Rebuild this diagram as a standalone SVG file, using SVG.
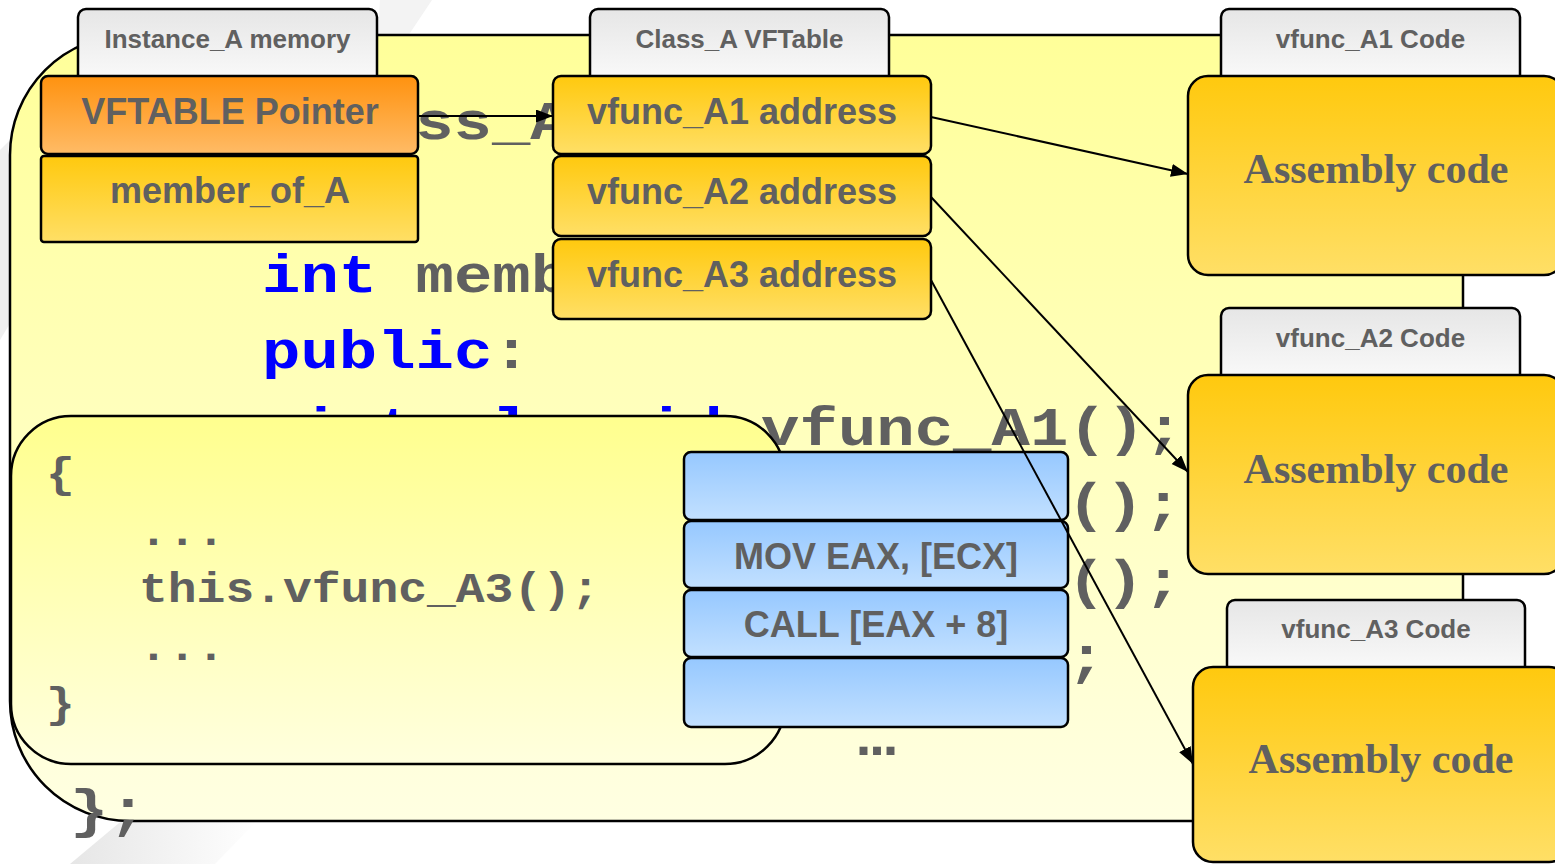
<svg xmlns="http://www.w3.org/2000/svg" width="1555" height="864" viewBox="0 0 1555 864">
  <defs>
    <linearGradient id="gYellowBg" x1="0" y1="0" x2="0" y2="1">
      <stop offset="0" stop-color="#FFFF99"/>
      <stop offset="1" stop-color="#FFFFE2"/>
    </linearGradient>
    <linearGradient id="gInner" x1="0" y1="0" x2="0" y2="1">
      <stop offset="0" stop-color="#FFFF8E"/>
      <stop offset="1" stop-color="#FFFFDE"/>
    </linearGradient>
    <linearGradient id="gTab" x1="0" y1="0" x2="0" y2="1">
      <stop offset="0" stop-color="#E6E6E6"/>
      <stop offset="1" stop-color="#FCFCFC"/>
    </linearGradient>
    <linearGradient id="gGold" x1="0" y1="0" x2="0" y2="1">
      <stop offset="0" stop-color="#FFC90E"/>
      <stop offset="1" stop-color="#FFDF66"/>
    </linearGradient>
    <linearGradient id="gOrange" x1="0" y1="0" x2="0" y2="1">
      <stop offset="0" stop-color="#FF920F"/>
      <stop offset="1" stop-color="#FFBB66"/>
    </linearGradient>
    <linearGradient id="gBlue" x1="0" y1="0" x2="0" y2="1">
      <stop offset="0" stop-color="#96C8FF"/>
      <stop offset="1" stop-color="#C2E0FF"/>
    </linearGradient>
    <linearGradient id="gSwoosh" x1="0" y1="0" x2="1" y2="0">
      <stop offset="0" stop-color="#E6E6E6"/>
      <stop offset="1" stop-color="#FFFFFF"/>
    </linearGradient>
    <marker id="arrow" markerUnits="userSpaceOnUse" markerWidth="18" markerHeight="14" refX="17" refY="6.5" orient="auto">
      <path d="M0,0 L17,6.5 L0,13 z" fill="#000"/>
    </marker>
    <style>
      .tab { fill: url(#gTab); stroke: #000; stroke-width: 2.5; }
      .gold { fill: url(#gGold); stroke: #000; stroke-width: 2.5; }
      .orange { fill: url(#gOrange); stroke: #000; stroke-width: 2.5; }
      .blue { fill: url(#gBlue); stroke: #000; stroke-width: 2.5; }
      .tabtxt { font-family: "Liberation Sans", Arial, sans-serif; font-weight: bold; font-size: 26px; fill: #606060; text-anchor: middle; }
      .lbl { font-family: "Liberation Sans", Arial, sans-serif; font-weight: bold; font-size: 36px; fill: #606060; text-anchor: middle; }
      .dots { font-family: "Liberation Sans", Arial, sans-serif; font-weight: bold; font-size: 56px; fill: #606060; text-anchor: middle; letter-spacing: -2px; }
      .asm { font-family: "Liberation Serif", "Times New Roman", serif; font-weight: bold; font-size: 42px; fill: #606060; text-anchor: middle; }
      .code { font-family: "Liberation Mono", "Courier New", monospace; font-weight: bold; font-size: 64px; fill: #606060; white-space: pre; }
      .code2 { font-family: "Liberation Mono", "Courier New", monospace; font-weight: bold; font-size: 48px; fill: #606060; white-space: pre; }
      .kw { fill: #0000FF; }
      .conn { stroke: #000; stroke-width: 2; fill: none; marker-end: url(#arrow); }
    </style>
  </defs>

  <!-- page background with faint template swooshes -->
  <rect x="0" y="0" width="1555" height="864" fill="#FFFFFF"/>
  <polygon points="380,0 432,0 408,36 378,36" fill="#F3F3F3"/>
  <polygon points="0,150 12,138 12,320 0,340" fill="#EFEFEF"/>
  <polygon points="70,864 125,818 260,818 215,864" fill="url(#gSwoosh)"/>

  <!-- class declaration panel; code lines are squashed vertically to a Courier-like x-height -->
  <g id="class-panel">
    <rect x="10" y="35" width="1453" height="786" rx="120" ry="120" fill="url(#gYellowBg)" stroke="#000" stroke-width="2.5"/>
    <text class="code" x="300" y="139" transform="matrix(1 0 0 0.85 0 20.85)">class_A</text>
    <text class="code" x="262" y="292" transform="matrix(1 0 0 0.85 0 43.8)"><tspan class="kw">int</tspan> memb</text>
    <text class="code" x="262" y="368.5" transform="matrix(1 0 0 0.85 0 55.275)"><tspan class="kw">public</tspan>:</text>
    <text class="code" x="262" y="445" transform="matrix(1 0 0 0.85 0 66.75)"><tspan class="kw">virtual void</tspan> vfunc_A1();</text>
    <text class="code" x="1067" y="521.5" transform="matrix(1 0 0 0.85 0 78.225)">();</text>
    <text class="code" x="1067" y="598" transform="matrix(1 0 0 0.85 0 89.7)">();</text>
    <text class="code" x="1067" y="674.5" transform="matrix(1 0 0 0.85 0 101.175)">;</text>
    <text class="code" x="70" y="827.5" transform="matrix(1 0 0 0.85 0 124.125)">};</text>
  </g>

  <!-- caller body -->
  <g id="caller-body">
    <rect x="11" y="416" width="774" height="348" rx="60" ry="60" fill="url(#gInner)" stroke="#000" stroke-width="2.5"/>
    <text class="code2" x="46" y="487" transform="matrix(1 0 0 0.88 0 58.44)">{</text>
    <text class="code2" x="139" y="545" transform="matrix(1 0 0 0.88 0 65.4)">...</text>
    <text class="code2" x="139" y="602" transform="matrix(1 0 0 0.88 0 72.24)">this.vfunc_A3();</text>
    <text class="code2" x="139" y="660" transform="matrix(1 0 0 0.88 0 79.2)">...</text>
    <text class="code2" x="46" y="717" transform="matrix(1 0 0 0.88 0 86.04)">}</text>
  </g>

  <!-- compiled call sequence -->
  <g id="call-asm">
    <rect class="blue" x="684" y="452" width="384" height="68" rx="7"/>
    <rect class="blue" x="684" y="521" width="384" height="67" rx="7"/>
    <rect class="blue" x="684" y="590" width="384" height="67" rx="7"/>
    <rect class="blue" x="684" y="658" width="384" height="69" rx="7"/>
    <text class="lbl" x="876" y="569">MOV EAX, [ECX]</text>
    <text class="lbl" x="876" y="637">CALL [EAX + 8]</text>
    <text class="dots" x="876" y="755">...</text>
  </g>

  <!-- object instance -->
  <g id="instance-memory">
    <rect class="tab" x="78" y="9" width="299" height="80" rx="8"/>
    <text class="tabtxt" x="227.5" y="48">Instance_A memory</text>
    <rect class="orange" x="41" y="76" width="377" height="78" rx="7"/>
    <text class="lbl" x="230" y="124">VFTABLE Pointer</text>
    <rect class="gold" x="41" y="156" width="377" height="86" rx="3"/>
    <text class="lbl" x="230" y="203">member_of_A</text>
  </g>

  <!-- virtual function table -->
  <g id="vftable">
    <rect class="tab" x="590" y="9" width="299" height="80" rx="8"/>
    <text class="tabtxt" x="739.5" y="48">Class_A VFTable</text>
    <rect class="gold" x="553" y="76" width="378" height="78" rx="8"/>
    <text class="lbl" x="742" y="124">vfunc_A1 address</text>
    <rect class="gold" x="553" y="156" width="378" height="80" rx="8"/>
    <text class="lbl" x="742" y="204">vfunc_A2 address</text>
    <rect class="gold" x="553" y="239" width="378" height="80" rx="8"/>
    <text class="lbl" x="742" y="287">vfunc_A3 address</text>
  </g>

  <!-- function bodies -->
  <g id="vfunc-a1-code">
    <rect class="tab" x="1221" y="9" width="299" height="80" rx="8"/>
    <text class="tabtxt" x="1370.5" y="48">vfunc_A1 Code</text>
    <rect class="gold" x="1188" y="76" width="376" height="199" rx="20"/>
    <text class="asm" x="1376" y="183">Assembly code</text>
  </g>
  <g id="vfunc-a2-code">
    <rect class="tab" x="1221" y="308" width="299" height="80" rx="8"/>
    <text class="tabtxt" x="1370.5" y="347">vfunc_A2 Code</text>
    <rect class="gold" x="1188" y="375" width="376" height="199" rx="20"/>
    <text class="asm" x="1376" y="483">Assembly code</text>
  </g>
  <g id="vfunc-a3-code">
    <rect class="tab" x="1227" y="600" width="298" height="80" rx="8"/>
    <text class="tabtxt" x="1376" y="638">vfunc_A3 Code</text>
    <rect class="gold" x="1193" y="667" width="376" height="195" rx="20"/>
    <text class="asm" x="1381" y="773">Assembly code</text>
  </g>

  <!-- pointers -->
  <g id="connectors">
    <line class="conn" x1="418" y1="116" x2="553" y2="116"/>
    <line class="conn" x1="931" y1="117" x2="1188" y2="174"/>
    <line class="conn" x1="931" y1="197" x2="1188" y2="472"/>
    <line class="conn" x1="931" y1="280" x2="1193" y2="764"/>
  </g>
</svg>
